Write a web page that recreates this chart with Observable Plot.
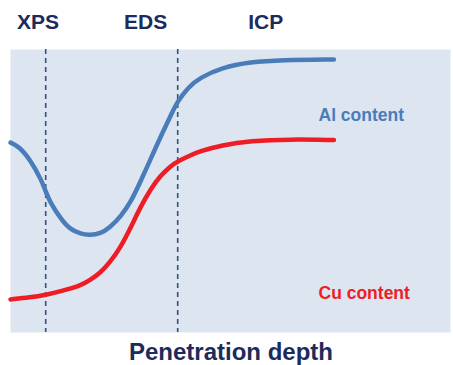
<!DOCTYPE html>
<html>
<head>
<meta charset="utf-8">
<script src="https://cdn.jsdelivr.net/npm/d3@7"></script>
<script src="https://cdn.jsdelivr.net/npm/@observablehq/plot@0.6"></script>
<style>
  html, body { margin: 0; padding: 0; background: #ffffff; }
  #chart svg { display: block; }
</style>
</head>
<body>
<div id="chart"></div>
<script>
// Penetration depth (arbitrary units, 0-100) and content (arbitrary units, 0-100)
const alDepth   = [0, 2, 4.5, 7, 8, 9, 11.5, 13.5, 16, 18, 20.5, 22.5, 25, 27.5, 29.5, 32, 34, 36.5, 38, 40.5, 43, 48, 54.5, 61.5, 73.5];
const alContent = [67.1, 65.6, 61.0, 54.0, 49.8, 46.0, 40.0, 36.5, 34.8, 34.4, 35.0, 37.0, 40.8, 46.5, 53.2, 61.8, 68.8, 77.0, 81.8, 86.8, 90.0, 93.6, 95.6, 96.3, 96.5];

const cuDepth   = [0, 4.5, 8, 11.5, 16, 18, 20.5, 22.5, 25, 27.5, 29.5, 32, 34, 36.5, 38, 41, 43, 48, 54.5, 63.5, 73.5];
const cuContent = [11.7, 12.4, 13.3, 14.6, 16.6, 18.4, 21.2, 24.6, 30.0, 37.6, 44.3, 51.0, 55.3, 58.9, 60.5, 62.7, 64.0, 66.2, 67.7, 68.3, 68.0];

// Probing depth limits of the techniques
const methods      = ["XPS", "EDS", "ICP"];
const methodLabelX = [6.25, 30.7, 58];
const methodLimits = [8, 38];

const seriesNames = ["Al content", "Cu content"];
const seriesLabelX = [70, 70];
const seriesLabelY = [74.9, 11.7];
const seriesColors = ["#4a7cba", "#ee1c24"];

const xLabel = "Penetration depth";

const alData = alDepth.map((d, i) => ({depth: d, content: alContent[i]}));
const cuData = cuDepth.map((d, i) => ({depth: d, content: cuContent[i]}));
const methodData = methods.map((m, i) => ({name: m, x: methodLabelX[i]}));
const seriesData = seriesNames.map((s, i) => ({name: s, x: seriesLabelX[i], y: seriesLabelY[i], color: seriesColors[i]}));

const font = "'Liberation Sans', Arial, Helvetica, sans-serif";
const navy = "#1c2a5c";

const chart = Plot.plot({
  width: 453,
  height: 365,
  marginLeft: 10,
  marginRight: 3,
  marginTop: 49,
  marginBottom: 33,
  x: {domain: [0, 100], axis: null},
  y: {domain: [0, 100], axis: null},
  style: {fontFamily: font, background: "#ffffff"},
  marks: [
    Plot.frame({fill: "#dce5f0", stroke: null}),
    Plot.ruleX(methodLimits, {stroke: "#34507e", strokeWidth: 1.6, strokeDasharray: "5,4"}),
    Plot.line(alData, {x: "depth", y: "content", stroke: seriesColors[0], strokeWidth: 4.5, curve: "basis"}),
    Plot.line(cuData, {x: "depth", y: "content", stroke: seriesColors[1], strokeWidth: 4.5, curve: "basis"}),
    Plot.text(methodData, {x: "x", y: () => 107.4, text: "name", fill: navy, fontSize: 21, fontWeight: "bold", lineAnchor: "bottom", textAnchor: "middle"}),
    Plot.text(seriesData, {x: "x", y: "y", text: "name", fill: "color", fontSize: 17.5, fontWeight: "bold", lineAnchor: "bottom", textAnchor: "start"}),
    Plot.text([xLabel], {x: () => 50.1, y: () => -9.6, text: d => d, fill: navy, fontSize: 24, fontWeight: "bold", lineAnchor: "bottom", textAnchor: "middle"})
  ]
});
document.getElementById("chart").append(chart);
</script>
</body>
</html>
